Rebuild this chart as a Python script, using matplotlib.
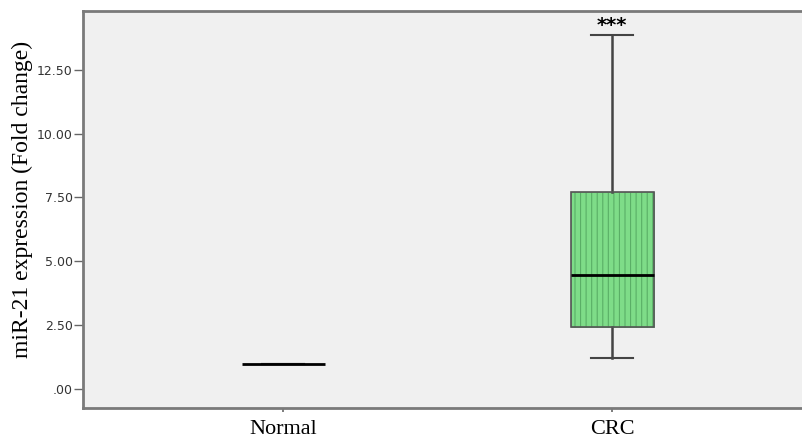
import matplotlib.pyplot as plt
from matplotlib.patches import Rectangle

# Group labels and box-plot summary values (fold change)
groups = ["Normal", "CRC"]
medians = [1.0, 4.45]
q1 = [1.0, 2.42]
q3 = [1.0, 7.73]
whislo = [1.0, 1.21]
whishi = [1.0, 13.87]
yticks = [0, 2.5, 5, 7.5, 10, 12.5]
ytick_labels = [".00", "2.50", "5.00", "7.50", "10.00", "12.50"]

stats = []
for i, g in enumerate(groups):
    stats.append({"label": g, "med": medians[i], "q1": q1[i], "q3": q3[i],
                  "whislo": whislo[i], "whishi": whishi[i], "fliers": []})

fig = plt.figure(figsize=(8.03, 4.37), dpi=100)
ax = fig.add_axes([83 / 803, (437 - 408) / 437, 720 / 803, 397 / 437])
ax.set_facecolor("#f0f0f0")

plt.rcParams["hatch.linewidth"] = 0.8
w = 0.252
positions = [1, 2]

bp = ax.bxp(stats, positions=positions, widths=w, patch_artist=True,
            showfliers=False,
            boxprops=dict(facecolor="#7edc88", edgecolor="#5aae66", linewidth=0.5),
            medianprops=dict(color="black", linewidth=2, zorder=4),
            whiskerprops=dict(color="#444444", linewidth=1.8),
            capprops=dict(color="#444444", linewidth=1.5))
bp["boxes"][0].set_visible(False)
bp["boxes"][1].set_hatch("|||")

# dark outline of the CRC box
ax.add_patch(Rectangle((positions[1] - w / 2, q1[1]), w, q3[1] - q1[1],
                       fill=False, edgecolor="#555555", linewidth=1.2, zorder=3))

ax.text(positions[1], whishi[1] + 0.35, "***", ha="center", va="center",
        fontsize=14, fontweight="bold", color="black")

ax.set_xlim(0.392, 2.58)
ax.set_ylim(-0.74, 14.8)
ax.set_yticks(yticks)
ax.set_yticklabels(ytick_labels, fontsize=9, color="#333333", family="DejaVu Sans")
ax.set_xticks(positions)
ax.set_xticklabels(groups, fontsize=16, family="Liberation Serif")
ax.tick_params(axis="y", direction="out", length=6.5, width=1, color="#666666", pad=1)
ax.tick_params(axis="x", direction="out", length=3, width=1.2, color="#666666", pad=6)

ax.set_ylabel("miR-21 expression (Fold change)", fontsize=17,
              family="Liberation Serif")
ax.yaxis.set_label_coords(-0.069, 0.526)

for side in ["left", "top", "bottom"]:
    ax.spines[side].set_color("#7a7a7a")
    ax.spines[side].set_linewidth(2)
ax.spines["right"].set_visible(False)

fig.savefig("out.png", dpi=100)
